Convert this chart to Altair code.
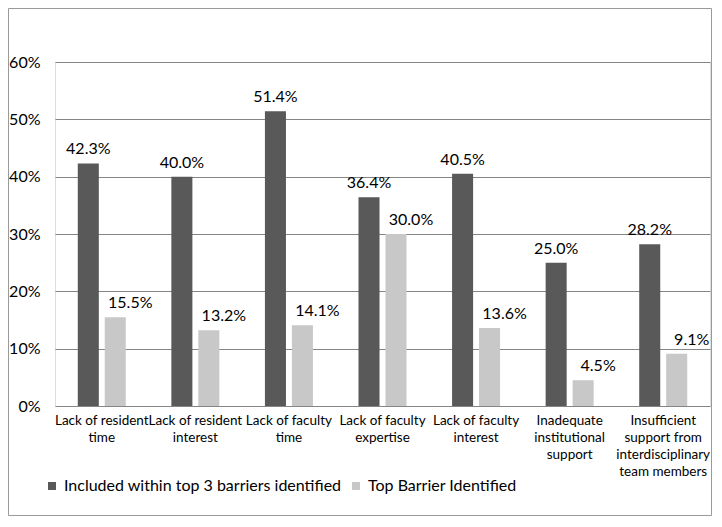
import altair as alt
import pandas as pd

categories = [
    "Lack of resident|time",
    "Lack of resident|interest",
    "Lack of faculty|time",
    "Lack of faculty|expertise",
    "Lack of faculty|interest",
    "Inadequate|institutional|support",
    "Insufficient|support from|interdisciplinary|team members",
]
series = ["Included within top 3 barriers identified", "Top Barrier Identified"]
included_top3 = [42.3, 40.0, 51.4, 36.4, 40.5, 25.0, 28.2]
top_barrier = [15.5, 13.2, 14.1, 30.0, 13.6, 4.5, 9.1]
colors = ["#595959", "#c8c8c8"]

rows = []
for c, a, b in zip(categories, included_top3, top_barrier):
    rows.append({"category": c, "series": series[0], "value": a / 100})
    rows.append({"category": c, "series": series[1], "value": b / 100})
df = pd.DataFrame(rows)

W, H = 655, 344
PL, PT, PR, PB = 47, 54, 2, 110
FONT = "Lato"

x_enc = alt.X(
    "category:N",
    sort=categories,
    scale=alt.Scale(paddingInner=0.487, paddingOuter=0.2435),
    axis=alt.Axis(
        title=None,
        labelAngle=0,
        labelExpr="split(datum.label, '|')",
        labelFontSize=13.5,
        labelLineHeight=17,
        labelPadding=7,
        labelColor="#000000",
        labelFont=FONT,
        ticks=False,
        domain=False,
        labelLimit=200,
    ),
)
xoff = alt.XOffset("series:N", sort=series, scale=alt.Scale(paddingInner=0.22, paddingOuter=0))
y_enc = alt.Y(
    "value:Q",
    scale=alt.Scale(domain=[0, 0.6], nice=False),
    axis=alt.Axis(
        title=None,
        values=[0, 0.1, 0.2, 0.3, 0.4, 0.5, 0.6],
        format=".0%",
        labelFontSize=16,
        labelFont=FONT,
        labelColor="#000000",
        labelPadding=15,
        ticks=False,
        domain=False,
        grid=True,
        gridColor="#858585",
        gridWidth=1.2,
    ),
)

base = alt.Chart(df)

bars = base.mark_bar().encode(
    x=x_enc,
    xOffset=xoff,
    y=y_enc,
    color=alt.Color(
        "series:N",
        sort=series,
        scale=alt.Scale(domain=series, range=colors),
        legend=alt.Legend(
            title=None,
            orient="none",
            legendX=-11,
            legendY=416,
            direction="horizontal",
            columns=2,
            columnPadding=6,
            symbolType="square",
            symbolSize=64,
            symbolStrokeWidth=0,
            labelFontSize=16,
            labelFont=FONT,
            labelColor="#000000",
            labelOffset=4,
            labelLimit=400,
        ),
    ),
)

labels_dark = base.transform_filter(alt.datum.series == series[0]).mark_text(
    dy=-9, baseline="alphabetic", fontSize=16, font=FONT, color="#000000"
).encode(x=alt.X("category:N", sort=categories), xOffset=alt.XOffset("series:N", sort=series), y="value:Q", text=alt.Text("value:Q", format=".1%"))

labels_light = base.transform_filter(alt.datum.series == series[1]).mark_text(
    dy=-9, dx=15, baseline="alphabetic", fontSize=16, font=FONT, color="#000000"
).encode(x=alt.X("category:N", sort=categories), xOffset=alt.XOffset("series:N", sort=series), y="value:Q", text=alt.Text("value:Q", format=".1%"))

border = alt.Chart(pd.DataFrame({"b": [0]})).mark_rect(
    fill="transparent", stroke="#9a9a9a", strokeWidth=1
).encode(
    x=alt.value(-PL + 0.5),
    x2=alt.value(W + PR - 0.5),
    y=alt.value(-PT + 0.5),
    y2=alt.value(H + PB - 0.5),
)

chart = alt.layer(bars, labels_dark, labels_light, border).properties(
    width=W,
    height=H,
    autosize=alt.AutoSizeParams(type="none"),
    padding={"left": PL, "top": PT, "right": PR, "bottom": PB},
).configure_view(stroke=None).configure(background="#ffffff")

chart.save("out.html", embed_options={"renderer": "svg", "actions": False})
